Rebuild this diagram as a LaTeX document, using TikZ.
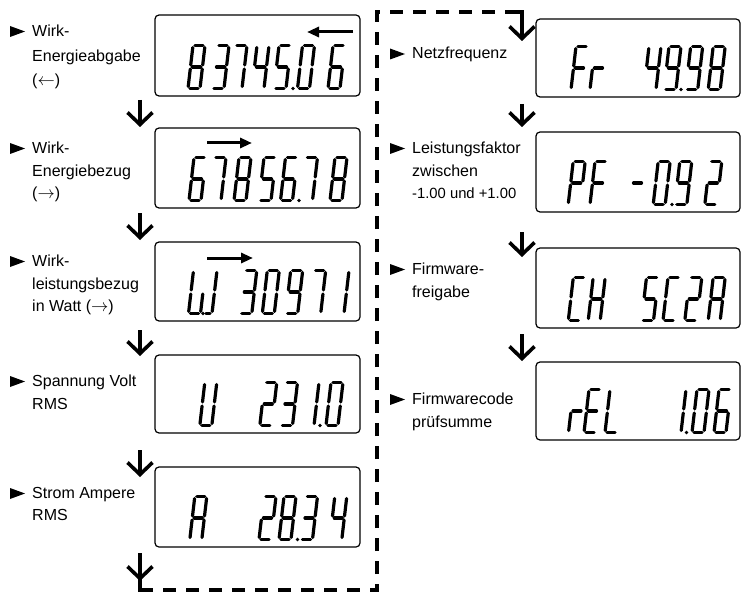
\documentclass[tikz,border=0pt]{standalone}
\usepackage{fontspec}
\setmainfont{Liberation Sans}
\usetikzlibrary{arrows.meta}
% seven-segment geometry (u,v) -> (XO+u+LK*v, YO-v)
\def\LW{12}\def\LH{43}\def\LG{2}\def\LK{0.116}
\def\lcdsegA{\draw[lseg] ({\XO+\LG+\LK*\LH},{\YO-\LH}) -- ({\XO+\LW-\LG+\LK*\LH},{\YO-\LH});}
\def\lcdsegB{\draw[lseg] ({\XO+\LW+\LK*(\LH-\LG)},{\YO-\LH+\LG}) -- ({\XO+\LW+\LK*(\LH/2+\LG)},{\YO-\LH/2-\LG});}
\def\lcdsegC{\draw[lseg] ({\XO+\LW+\LK*(\LH/2-\LG)},{\YO-\LH/2+\LG}) -- ({\XO+\LW+\LK*\LG},{\YO-\LG});}
\def\lcdsegD{\draw[lseg] ({\XO+\LG},{\YO}) -- ({\XO+\LW-\LG},{\YO});}
\def\lcdsegE{\draw[lseg] ({\XO+\LK*\LG},{\YO-\LG}) -- ({\XO+\LK*(\LH/2-\LG)},{\YO-\LH/2+\LG});}
\def\lcdsegF{\draw[lseg] ({\XO+\LK*(\LH/2+\LG)},{\YO-\LH/2-\LG}) -- ({\XO+\LK*(\LH-\LG)},{\YO-\LH+\LG});}
\def\lcdsegG{\draw[lseg] ({\XO+\LG+\LK*\LH/2},{\YO-\LH/2}) -- ({\XO+\LW-\LG+\LK*\LH/2},{\YO-\LH/2});}
\newcommand\lcd[4][12]{{\def\LW{#1}\def\XO{#2}\def\YO{#3}\foreach \sg in {#4}{\csname lcdseg\sg\endcsname}}}
\newcommand\lcddp[2]{\fill (#1,#2) circle (1.9pt);}
\newcommand\bullettri[2]{\fill (#1,{#2-5.5}) -- ({#1+15},#2) -- (#1,{#2+5.5}) -- cycle;}
\newcommand\larr{$\leftarrow$}
\newcommand\rarr{$\rightarrow$}
\begin{document}
\begin{tikzpicture}[x=1pt,y=-1pt,
  lseg/.style={line width=3.2pt,line cap=round},
  lcdbox/.style={draw,line width=1.2pt,rounded corners=4pt,inner sep=0pt},
  flow/.style={line width=3.6pt,-{Straight Barb[length=12pt,width=25pt]}},
  dashline/.style={line width=4pt,dash pattern=on 13pt off 10pt},
  ind/.style={line width=3pt,-{Triangle[length=12pt,width=10pt]}},
  lbl/.style={anchor=north west,inner sep=0pt,align=left,font=\fontsize{16}{22.5}\selectfont}]
\useasboundingbox (0,0) rectangle (741,596);

% boxes
\node[lcdbox,minimum width=205pt,minimum height=81pt] (b1) at (257.5,55.5) {};
\node[lcdbox,minimum width=205pt,minimum height=80pt] (b2) at (257.5,168) {};
\node[lcdbox,minimum width=205pt,minimum height=79pt] (b3) at (257.5,281.5) {};
\node[lcdbox,minimum width=205pt,minimum height=78pt] (b4) at (257.5,394) {};
\node[lcdbox,minimum width=205pt,minimum height=80pt] (b5) at (257.5,507) {};
\node[lcdbox,minimum width=204pt,minimum height=78pt] (r1) at (638,58) {};
\node[lcdbox,minimum width=204pt,minimum height=80pt] (r2) at (638,172) {};
\node[lcdbox,minimum width=204pt,minimum height=80pt] (r3) at (638,288) {};
\node[lcdbox,minimum width=204pt,minimum height=78pt] (r4) at (638,401) {};

% labels
\bullettri{10}{31.5}
\node[lbl,font=\fontsize{16}{24.5}\selectfont] (t1) at (32,25) {Wirk-\\Energieabgabe\\(\larr)};
\bullettri{10}{148.5}
\node[lbl] (t2) at (32,142) {Wirk-\\Energiebezug\\(\rarr)};
\bullettri{10}{261.5}
\node[lbl] (t3) at (32,255) {Wirk-\\leistungsbezug\\in Watt (\rarr)};
\bullettri{10}{381.5}
\node[lbl] (t4) at (32,375) {Spannung Volt\\RMS};
\bullettri{10}{493.5}
\node[lbl] (t5) at (32,487) {Strom Ampere\\RMS};
\bullettri{390}{54}
\node[lbl] (u1) at (412,47) {Netzfrequenz};
\bullettri{390}{148.5}
\node[lbl] (u2) at (412,142) {Leistungsfaktor\\zwischen\\{\fontsize{14.8}{22.5}\selectfont -1.00 und +1.00}};
\bullettri{390}{269.5}
\node[lbl] (u3) at (412,263) {Firmware-\\freigabe};
\bullettri{390}{399.5}
\node[lbl] (u4) at (412,393) {Firmwarecode\\prüfsumme};

% flow arrows, left column
\coordinate (l1a) at (140,100); \coordinate (l1b) at (140,127);
\coordinate (l2a) at (140,213); \coordinate (l2b) at (140,240);
\coordinate (l3a) at (140,330); \coordinate (l3b) at (140,356);
\coordinate (l4a) at (140,450); \coordinate (l4b) at (140,477);
\coordinate (l5a) at (140,553); \coordinate (l5b) at (140,581);
\draw[flow] (l1a) -- (l1b);
\draw[flow] (l2a) -- (l2b);
\draw[flow] (l3a) -- (l3b);
\draw[flow] (l4a) -- (l4b);
\draw[flow] (l5a) -- (l5b);
% dashed return path
\coordinate (c1) at (140,590);
\coordinate (c2) at (377,590);
\coordinate (c3) at (377,12);
\coordinate (c4) at (512,12);
\coordinate (c5) at (522,12);
\coordinate (r0b) at (522,41);
\draw[line width=3.6pt,line cap=rect] (140,575) -- (c1);
\draw[dashline] (c1) -- (c2) -- (c3) -- (c4);
\draw[flow,miter limit=10] (c4) -- (c5) -- (r0b);
% flow arrows, right column
\coordinate (r1a) at (522,104); \coordinate (r1b) at (522,127);
\coordinate (r2a) at (522,232); \coordinate (r2b) at (522,257);
\coordinate (r3a) at (522,334); \coordinate (r3b) at (522,361);
\draw[flow] (r1a) -- (r1b);
\draw[flow] (r2a) -- (r2b);
\draw[flow] (r3a) -- (r3b);

% direction indicators in displays
\coordinate (i1a) at (353,32); \coordinate (i1b) at (307,32);
\coordinate (i2a) at (207,143); \coordinate (i2b) at (252,143);
\coordinate (i3a) at (207,258); \coordinate (i3b) at (253,258);
\draw[ind] (i1a) -- (i1b);
\draw[ind] (i2a) -- (i2b);
\draw[ind] (i3a) -- (i3b);

% display 1: 83745.06
\lcd{188}{88.5}{A,B,C,D,E,F,G}
\lcd{212}{88.5}{A,B,G,C,D}
\lcd{230}{88.5}{A,B,C}
\lcd{252}{88.5}{F,G,B,C}
\lcd{274}{88.5}{A,F,G,C,D}
\lcddp{293}{88.5}
\lcd{297.5}{88.5}{A,B,C,D,E,F}
\lcd{328}{88.5}{A,F,G,E,C,D}
% display 2: 67856,78
\lcd{189}{200.5}{A,F,G,E,C,D}
\lcd{209}{200.5}{A,B,C}
\lcd{234}{200.5}{A,B,C,D,E,F,G}
\lcd{259}{200.5}{A,F,G,C,D}
\lcd{280.5}{200.5}{A,F,G,E,C,D}
\lcddp{299}{200.5}
\lcd{300.5}{200.5}{A,B,C}
\lcd{330}{200.5}{A,B,C,D,E,F,G}
% display 3: W 30971
\lcd{188.5}{313.5}{F,E,D,C}
\lcddp{203}{313.5}
\lcd[8]{204}{313.5}{D,C,B}
\lcd{239.8}{313.5}{A,B,G,C,D}
\lcd{262.3}{313.5}{A,B,C,D,E,F}
\lcd{285.7}{313.5}{A,B,C,D,F,G}
\lcd{308.7}{313.5}{A,B,C}
\lcd{332}{313.5}{B,C}
% display 4: U 231.0
\lcd{199.8}{425.5}{B,C,D,E,F}
\lcd{259.8}{425.5}{A,B,G,E,D}
\lcd{280.5}{425.5}{A,B,G,C,D}
\lcd{302}{425.5}{B,C}
\lcddp{320}{425.5}
\lcd{326}{425.5}{A,B,C,D,E,F}
% display 5: A 28.34
\lcd{189.8}{539.5}{A,B,C,E,F,G}
\lcd{259}{539.5}{A,B,G,E,D}
\lcd{279}{539.5}{A,B,C,D,E,F,G}
\lcddp{297.5}{539.5}
\lcd{300.5}{539.5}{A,B,G,C,D}
\lcd{329.8}{539.5}{F,G,B,C}
% display R1: Fr 49.98
\lcd{571}{89.5}{A,E,F,G}
\lcd{590}{89.5}{E,G}
\lcd{644}{89.5}{F,G,B,C}
\lcd{664}{89.5}{A,B,C,D,F,G}
\lcddp{681}{89.5}
\lcd{685.7}{89.5}{A,B,C,D,F,G}
\lcd{708.2}{89.5}{A,B,C,D,E,F,G}
% display R2: PF -0.92
\lcd{568.2}{204.5}{A,B,E,F,G}
\lcd{590}{204.5}{A,E,F,G}
\lcd{629}{204.5}{G}
\lcd{653.2}{204.5}{A,B,C,D,E,F}
\lcddp{672}{204.5}
\lcd{674.8}{204.5}{A,B,C,D,F,G}
\lcd{704.8}{204.5}{A,B,G,E,D}
% display R3: CH 5C2A
\lcd{568.3}{320.5}{A,D,E,F}
\lcd{588.2}{320.5}{B,C,E,F,G}
\lcd{641.5}{320.5}{A,F,G,C,D}
\lcd{663}{320.5}{A,D,E,F}
\lcd{684.8}{320.5}{A,B,G,E,D}
\lcd{708.2}{320.5}{A,B,C,E,F,G}
% display R4: rEL 1.06
\lcd{568.5}{432.5}{E,G}
\lcd{584}{432.5}{A,D,E,F,G}
\lcd{605}{432.5}{D,E,F}
\lcd{669}{432.5}{B,C}
\lcddp{686.5}{432.5}
\lcd{692}{432.5}{A,B,C,D,E,F}
\lcd{714}{432.5}{A,F,G,E,C,D}
\end{tikzpicture}
\end{document}
